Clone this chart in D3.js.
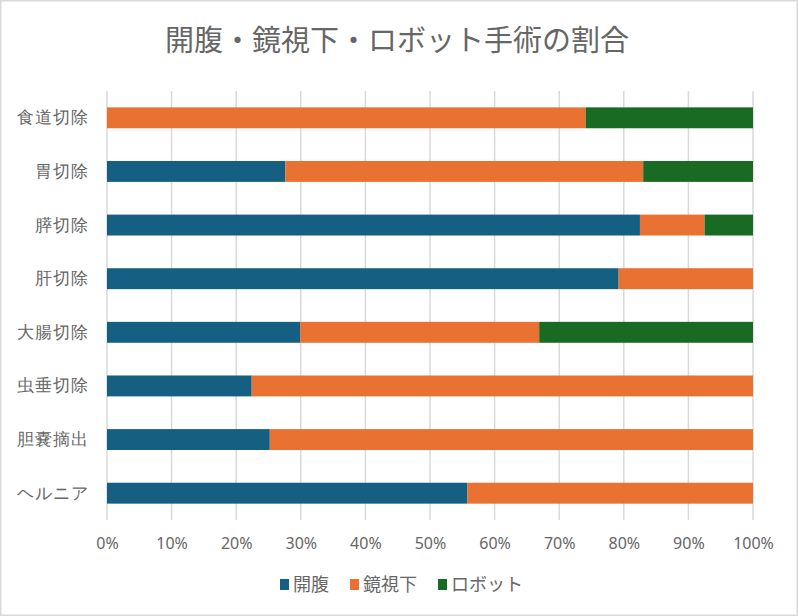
<!DOCTYPE html>
<html><head><meta charset="utf-8">
<script src="https://cdn.jsdelivr.net/npm/d3@7"></script>
<style>
html,body{margin:0;padding:0;background:#fff;}
svg{display:block;font-family:"Noto Sans CJK JP","Noto Sans",sans-serif;}
</style></head><body>
<svg id="chart" width="798" height="616"></svg>
<script>
const title = "開腹・鏡視下・ロボット手術の割合";
const categories = ["食道切除","胃切除","膵切除","肝切除","大腸切除","虫垂切除","胆嚢摘出","ヘルニア"];
const seriesNames = ["開腹","鏡視下","ロボット"];
const seriesColors = ["#156082","#E97132","#196B24"];
const openVals  = [0, 27.6, 82.5, 79.2, 29.9, 22.4, 25.2, 55.8];
const lapVals   = [74.1, 55.4, 10.0, 20.8, 37.0, 77.6, 74.8, 44.2];
const robotVals = [25.9, 17.0, 7.5, 0, 33.1, 0, 0, 0];
const tickVals = [0,10,20,30,40,50,60,70,80,90,100];

const svg = d3.select("#chart");
const W = 798, H = 616;
svg.append("rect").attr("x",0.75).attr("y",0.75).attr("width",W-1.5).attr("height",H-1.5)
  .attr("fill","#fff").attr("stroke","#d9d9d9").attr("stroke-width",1.5);

const m = {left:107, right:45, top:91, bottom:96};
const x = d3.scaleLinear().domain([0,100]).range([m.left, W-m.right]);
const y = d3.scaleBand().domain(categories).range([m.top, H-m.bottom]).paddingInner(0.61).paddingOuter(0.305);

// gridlines
svg.append("g").selectAll("line").data(tickVals).join("line")
  .attr("x1",d=>x(d)).attr("x2",d=>x(d))
  .attr("y1",m.top).attr("y2",H-m.bottom)
  .attr("stroke","#d9d9d9").attr("stroke-width",1.5);

// stacked data
const rows = categories.map((c,i)=>({cat:c, "開腹":openVals[i], "鏡視下":lapVals[i], "ロボット":robotVals[i]}));
const stack = d3.stack().keys(seriesNames)(rows);
svg.append("g").selectAll("g").data(stack).join("g")
  .attr("fill",(d,i)=>seriesColors[i])
  .selectAll("rect").data(d=>d).join("rect")
  .attr("x",d=>x(d[0])).attr("width",d=>x(d[1])-x(d[0]))
  .attr("y",d=>y(d.data.cat)).attr("height",y.bandwidth());

// x axis labels
const xAxis = d3.axisBottom(x).tickValues(tickVals).tickFormat(d=>d+"%").tickSize(0).tickPadding(0);
const gx = svg.append("g").attr("transform",`translate(0,${H-m.bottom+18})`).call(xAxis);
gx.select(".domain").remove();
gx.selectAll("text").attr("font-size",16).attr("fill","#666").attr("dy","0.71em")
  .attr("font-family","'Noto Sans','Noto Sans CJK JP',sans-serif");

// y axis labels
const yAxis = d3.axisLeft(y).tickSize(0).tickPadding(18);
const gy = svg.append("g").attr("transform",`translate(${m.left},0)`).call(yAxis);
gy.select(".domain").remove();
gy.selectAll("text").attr("font-size",17).attr("fill","#666").attr("letter-spacing","1px");

// title
svg.append("text").attr("x",397).attr("y",51).attr("text-anchor","middle")
  .attr("font-size",29).attr("fill","#666").text(title);

// legend
const legendX = [280, 350, 438];
const lg = svg.append("g");
seriesNames.forEach((s,i)=>{
  lg.append("rect").attr("x",legendX[i]).attr("y",579).attr("width",9).attr("height",11).attr("fill",seriesColors[i]);
  lg.append("text").attr("x",legendX[i]+13).attr("y",585).attr("dy","0.35em")
    .attr("font-size",18).attr("fill","#666").text(s);
});
</script>
</body></html>
